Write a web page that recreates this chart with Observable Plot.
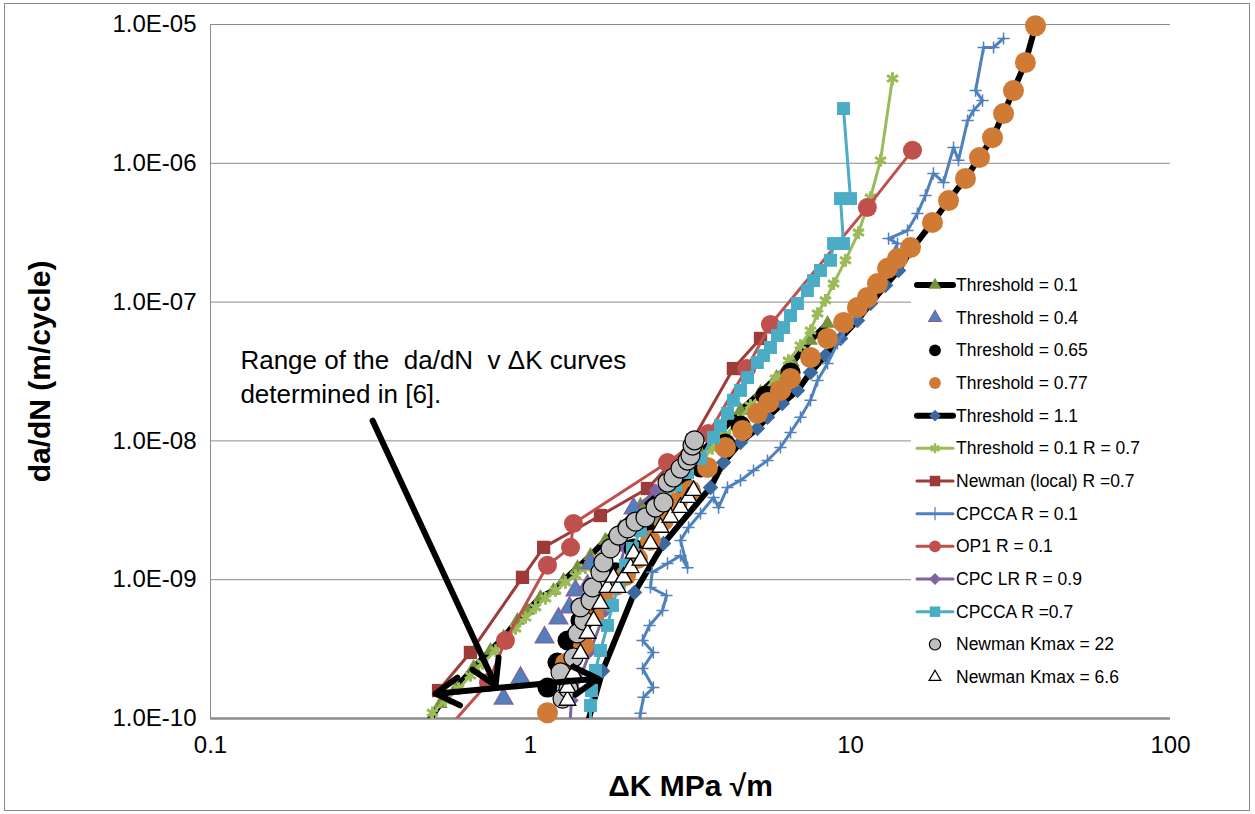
<!DOCTYPE html>
<html><head><meta charset="utf-8">
<script src="https://cdn.jsdelivr.net/npm/d3@7"></script>
<script src="https://cdn.jsdelivr.net/npm/@observablehq/plot@0.6"></script>
<style>
html,body{margin:0;padding:0;background:#fff;overflow:hidden}
#wrap{position:relative;width:1255px;height:814px;background:#fff}
#wrap > svg.plot{position:absolute;left:0;top:0}
#border{position:absolute;left:4px;top:3px;width:1246px;height:808px;border:1px solid #8a8a8a;box-sizing:border-box;pointer-events:none}
#legend{position:absolute;left:911px;top:266px}
</style></head><body><div id="wrap"></div>
<script>
// ---- axis ticks ----
const xTicks = [0.1, 1, 10, 100];
const xTickLabels = ["0.1", "1", "10", "100"];
const yTicks = [1e-10, 1e-9, 1e-8, 1e-7, 1e-6, 1e-5];
const xTitle = "ΔK MPa √m";
const yTitle = "da/dN (m/cycle)";

// ---- series: [ΔK, da/dN] ----
const thr01 = [[0.460,8.2e-11],[0.523,1.28e-10],[0.583,1.64e-10],[0.664,2.33e-10],[0.750,3.09e-10],[0.824,3.84e-10],[0.910,5.08e-10],[0.979,6.0e-10],[1.074,7.45e-10],[1.18,8.36e-10],[1.268,9.87e-10],[1.402,1.22e-9],[1.54,1.49e-9],[1.714,1.92e-9],[1.911,2.38e-9],[2.207,3.43e-9],[2.549,4.39e-9],[2.943,6.12e-9],[3.398,8.25e-9],[3.924,1.15e-8],[4.532,1.66e-8],[5.233,2.23e-8],[5.87,2.86e-8],[6.587,3.67e-8],[7.499,5.29e-8],[8.475,7.01e-8]];
const thr04 = [[0.824,1.39e-10],[0.931,1.97e-10],[1.106,3.84e-10],[1.223,5.25e-10],[1.324,6.31e-10],[1.382,8.36e-10],[1.507,9.08e-10],[1.54,1.31e-9],[1.69,1.44e-9],[1.816,1.76e-9],[2.099,3.26e-9]];
const thr065 = [[1.13,1.67e-10],[1.214,2.53e-10],[1.305,3.65e-10],[1.433,5.08e-10],[1.54,6.31e-10],[1.654,7.69e-10],[1.844,1.13e-9],[2.099,1.68e-9],[2.371,2.46e-9],[2.642,3.43e-9],[3.006,4.77e-9],[3.398,6.43e-9],[4.066,9.57e-9],[4.532,1.29e-8],[5.42,2.12e-8],[6.494,3.11e-8]];
const thr077 = [[1.13,1.10e-10],[1.286,2.49e-10],[1.465,3.36e-10],[1.574,5.52e-10],[1.69,7.08e-10],[1.844,9.08e-10],[1.981,1.07e-9],[2.16,1.42e-9],[2.371,1.92e-9],[2.604,2.67e-9],[2.875,3.60e-9],[3.162,4.39e-9],[3.573,6.43e-9],[4.066,8.96e-9],[4.598,1.19e-8],[5.117,1.58e-8],[5.545,1.89e-8],[6.04,2.31e-8],[6.494,2.82e-8],[7.499,3.99e-8],[8.475,5.47e-8],[9.51,7.13e-8],[10.51,9.14e-8],[11.29,1.08e-7],[12.14,1.36e-7],[13.05,1.75e-7],[14.03,2.06e-7],[15.40,2.47e-7],[18.04,3.75e-7],[20.25,5.39e-7],[22.87,7.77e-7],[25.30,1.10e-6],[27.78,1.53e-6],[30.08,2.28e-6],[32.3,3.34e-6],[35.2,5.32e-6],[37.85,9.8e-6]];
const thr11 = [[1.485,8.2e-11],[1.679,2.2e-10],[2.113,8.09e-10],[2.604,1.82e-9],[3.652,4.62e-9],[4.01,6.99e-9],[4.532,9.73e-9],[5.117,1.23e-8],[5.503,1.48e-8],[6.12,1.86e-8],[6.826,2.31e-8],[7.499,3.11e-8],[8.35,4.12e-8],[9.306,5.47e-8],[10.51,7.37e-8],[11.55,9.77e-8],[12.86,1.32e-7],[14.13,1.69e-7],[15.40,2.35e-7],[18.04,3.75e-7],[20.25,5.39e-7],[22.87,7.77e-7],[25.30,1.10e-6],[27.78,1.53e-6],[30.08,2.28e-6],[32.3,3.34e-6],[35.2,5.32e-6],[37.85,9.8e-6]];
const thr01R07 = [[0.480,8.9e-11],[0.494,1.10e-10],[0.542,1.35e-10],[0.596,1.64e-10],[0.649,2.04e-10],[0.708,2.49e-10],[0.778,3.09e-10],[0.835,3.65e-10],[0.898,4.45e-10],[0.965,5.34e-10],[1.037,6.31e-10],[1.114,7.33e-10],[1.197,8.36e-10],[1.286,9.55e-10],[1.382,1.07e-9],[1.485,1.22e-9],[1.631,1.42e-9],[1.778,1.71e-9],[1.939,1.98e-9],[2.130,2.46e-9],[2.337,3.05e-9],[2.549,3.72e-9],[2.778,4.54e-9],[3.05,5.45e-9],[3.398,6.99e-9],[3.70,8.82e-9],[4.066,1.09e-8],[4.467,1.40e-8],[4.87,1.80e-8],[5.31,2.23e-8],[5.83,2.82e-8],[6.40,3.79e-8],[6.978,4.87e-8],[7.499,6.24e-8],[7.888,8.28e-8],[8.35,1.03e-7],[8.851,1.36e-7],[9.645,2.0e-7],[10.59,3.17e-7],[11.55,5.67e-7],[12.41,1.05e-6],[13.53,4.08e-6]];
const newmanLocal = [[0.516,1.59e-10],[0.649,2.99e-10],[0.944,1.04e-9],[1.099,1.71e-9],[1.654,2.90e-9],[2.32,4.54e-9],[3.208,1.01e-8],[4.305,3.32e-8],[5.233,5.47e-8]];
const cpcca01 = [[2.175,8.9e-11],[2.207,1.09e-10],[2.254,1.42e-10],[2.42,1.67e-10],[2.239,2.29e-10],[2.42,2.99e-10],[2.239,3.65e-10],[2.355,4.68e-10],[2.585,6.0e-10],[2.661,7.69e-10],[2.371,8.79e-10],[2.40,1.13e-9],[2.68,1.31e-9],[2.943,1.49e-9],[3.096,1.22e-9],[2.943,1.92e-9],[3.118,2.38e-9],[3.398,3.0e-9],[3.733,3.91e-9],[3.87,3.31e-9],[4.127,4.62e-9],[4.532,5.19e-9],[4.976,6.12e-9],[5.503,7.22e-9],[6.04,8.96e-9],[6.494,1.15e-8],[6.978,1.48e-8],[7.499,1.96e-8],[7.888,2.72e-8],[8.475,3.61e-8],[9.10,5.03e-8],[9.79,6.56e-8],[10.51,8.28e-8],[11.29,1.03e-7],[12.14,1.43e-7],[13.05,1.90e-7],[14.03,2.64e-7],[13.15,2.87e-7],[15.07,3.28e-7],[16.19,4.35e-7],[17.15,5.87e-7],[18.16,8.45e-7],[19.53,7.28e-7],[20.99,1.30e-6],[21.75,1.05e-6],[23.22,2.03e-6],[24.24,2.40e-6],[25.86,2.83e-6],[24.60,3.34e-6],[26.05,6.83e-6],[27.99,6.83e-6],[30.08,7.93e-6]];
const op1 = [[0.562,8.9e-11],[0.739,1.82e-10],[0.835,3.65e-10],[1.13,1.27e-9],[1.334,1.71e-9],[1.362,2.54e-9],[2.68,6.99e-9],[3.60,1.13e-8],[4.74,3.32e-8],[5.62,6.90e-8],[11.29,4.81e-7],[15.62,1.24e-6]];
const cpcLR = [[1.324,8.2e-11],[1.343,1.35e-10],[1.382,1.59e-10],[1.54,3.09e-10],[1.714,6.0e-10],[1.844,9.87e-10],[1.981,1.76e-9],[2.099,3.15e-9],[2.459,4.39e-9],[2.943,6.12e-9]];
const cpcca07 = [[1.54,8.2e-11],[1.54,1.24e-10],[1.551,1.59e-10],[1.596,2.22e-10],[1.654,3.09e-10],[1.740,4.68e-10],[1.804,6.52e-10],[1.884,9.08e-10],[1.981,1.27e-9],[2.083,1.68e-9],[2.207,2.26e-9],[2.371,2.90e-9],[2.585,3.72e-9],[2.84,4.77e-9],[3.096,5.92e-9],[3.398,7.47e-9],[3.733,1.06e-8],[3.924,1.29e-8],[4.127,1.58e-8],[4.305,1.96e-8],[4.532,2.31e-8],[4.767,2.86e-8],[5.117,3.67e-8],[5.349,4.12e-8],[5.623,4.71e-8],[5.912,5.75e-8],[6.178,6.56e-8],[6.494,8.0e-8],[6.826,9.77e-8],[7.335,1.21e-7],[7.664,1.43e-7],[8.058,1.69e-7],[8.66,2.0e-7],[8.851,2.64e-7],[9.508,2.64e-7],[9.306,5.57e-7],[10.0,5.57e-7],[9.508,2.48e-6]];
const newman22 = [[1.259,1.39e-10],[1.314,1.64e-10],[1.241,2.15e-10],[1.362,2.75e-10],[1.402,4.10e-10],[1.465,5.08e-10],[1.433,6.31e-10],[1.54,7.08e-10],[1.563,8.79e-10],[1.654,1.13e-9],[1.69,1.33e-9],[1.778,1.68e-9],[1.884,2.08e-9],[2.011,2.34e-9],[2.13,2.62e-9],[2.287,2.81e-9],[2.459,3.31e-9],[2.604,3.60e-9],[2.68,5.01e-9],[2.798,5.45e-9],[2.943,6.32e-9],[3.096,7.22e-9],[3.162,7.85e-9],[3.208,9.26e-9],[3.255,1.01e-8]];
const newman66 = [[1.305,1.35e-10],[1.305,1.67e-10],[1.362,2.11e-10],[1.433,2.94e-10],[1.507,4.10e-10],[1.574,5.08e-10],[1.654,6.74e-10],[1.740,8.79e-10],[1.816,1.04e-9],[1.871,8.79e-10],[1.953,1.04e-9],[2.054,1.22e-9],[2.099,1.55e-9],[2.207,1.38e-9],[2.371,1.82e-9],[2.549,2.38e-9],[2.738,2.81e-9],[2.943,3.31e-9],[3.118,3.91e-9],[3.232,4.39e-9]];

// ---- annotation ----
const annotLines = ["Range of the \u00a0da/dN \u00a0v ΔK curves", "determined in [6]."];
const annotAt = [[0.124, 3.79e-8], [0.124, 2.16e-8]];
const arrows = [
  {x1: 0.321, y1: 1.40e-8, x2: 0.778, y2: 1.73e-10},
  {x1: 0.904, y1: 1.71e-10, x2: 0.505, y2: 1.51e-10},
  {x1: 0.904, y1: 1.71e-10, x2: 1.619, y2: 1.94e-10}
];

// ---- legend ----
const legendItems = [
  {label: "Threshold = 0.1", line: "#000", lw: 6, sym: "triangle", fill: "#76923C", stroke: "none", size: 70},
  {label: "Threshold = 0.4", line: null, sym: "triangle", fill: "#4F81BD", stroke: "#8064A2", size: 70},
  {label: "Threshold = 0.65", line: null, sym: "circle", fill: "#000", stroke: "none", size: 110},
  {label: "Threshold = 0.77", line: null, sym: "circle", fill: "#CF7B35", stroke: "none", size: 110},
  {label: "Threshold = 1.1", line: "#000", lw: 6, sym: "diamond2", fill: "#3B6AA0", stroke: "none", size: 90},
  {label: "Threshold = 0.1 R = 0.7", line: "#9BBB59", lw: 3, sym: "asterisk", fill: "none", stroke: "#9BBB59", size: 70},
  {label: "Newman (local) R =0.7", line: "#9E3A38", lw: 3, sym: "square", fill: "#9E3A38", stroke: "none", size: 110},
  {label: "CPCCA R = 0.1", line: "#4F81BD", lw: 3, sym: "plus", fill: "none", stroke: "#4F81BD", size: 60},
  {label: "OP1 R = 0.1", line: "#C0504D", lw: 3, sym: "circle", fill: "#C0504D", stroke: "none", size: 110},
  {label: "CPC LR R = 0.9", line: "#8064A2", lw: 3, sym: "diamond2", fill: "#8064A2", stroke: "none", size: 90},
  {label: "CPCCA R =0.7", line: "#4BACC6", lw: 3, sym: "square", fill: "#4BACC6", stroke: "none", size: 110},
  {label: "Newman Kmax = 22", line: null, sym: "circle", fill: "#BFBFBF", stroke: "#000", size: 100},
  {label: "Newman Kmax = 6.6", line: null, sym: "triangle", fill: "#fff", stroke: "#000", size: 60}
];

const X = d => d[0], Y = d => d[1];
const inRange = a => a.filter(d => d[1] >= 1e-10);
const fmtY = d => { const e = Math.round(Math.log10(d)); return "1.0E" + (e < 0 ? "-" : "+") + String(Math.abs(e)).padStart(2, "0"); };
const ln = (data, stroke, strokeWidth) => Plot.line(data, {x: X, y: Y, stroke, strokeWidth, clip: true, strokeLinejoin: "round"});
const dots = (data, o) => Plot.dot(inRange(data), {x: X, y: Y, ...o});

const chart = Plot.plot({
  width: 1255, height: 814,
  marginLeft: 210, marginRight: 85, marginTop: 24, marginBottom: 96,
  x: {type: "log", domain: [0.1, 100], axis: null},
  y: {type: "log", domain: [1e-10, 1e-5], axis: null},
  style: {fontFamily: "'Liberation Sans', Arial, sans-serif", fontSize: "24px", background: "transparent", overflow: "visible", color: "#000"},
  marks: [
    Plot.ruleY(yTicks, {stroke: "#8c8c8c", strokeWidth: 1}),
    Plot.ruleX([0.1], {stroke: "#8c8c8c", strokeWidth: 1}),
    Plot.ruleY([1e-10], {stroke: "#8c8c8c", strokeWidth: 2.5}),
    Plot.text(yTicks, {x: () => 0.1, y: d => d, text: fmtY, textAnchor: "end", dx: -14, fontSize: 24, fill: "#000"}),
    Plot.text(xTicks, {x: d => d, frameAnchor: "bottom", text: (d, i) => xTickLabels[i], dy: 34, fontSize: 24, fill: "#000"}),

    ln(thr11, "#000", 6),
    dots(thr11, {symbol: "diamond2", r: 7, fill: "#3B6AA0"}),
    ln(thr01, "#000", 6),
    dots(thr01, {symbol: "triangle", r: 5.5, fill: "#76923C"}),
    ln(thr01R07, "#9BBB59", 3),
    dots(thr01R07, {symbol: "asterisk", r: 6, fill: "none", stroke: "#9BBB59", strokeWidth: 3}),
    ln(newmanLocal, "#9E3A38", 3),
    dots(newmanLocal, {symbol: "square", r: 7.5, fill: "#9E3A38"}),
    ln(cpcca01, "#4F81BD", 3),
    dots(cpcca01, {symbol: "plus", r: 4, fill: "none", stroke: "#4F81BD", strokeWidth: 1.5}),
    ln(op1, "#C0504D", 3),
    dots(op1, {r: 9.5, fill: "#C0504D"}),
    ln(cpcLR, "#8064A2", 3),
    dots(cpcLR, {symbol: "diamond2", r: 6.5, fill: "#8064A2"}),
    dots(thr04, {symbol: "triangle", r: 6.8, fill: "#4F81BD", stroke: "#8064A2", strokeWidth: 1.5}),
    dots(thr065, {r: 10, fill: "#000"}),
    dots(thr077, {r: 10.5, fill: "#CF7B35"}),
    ln(cpcca07, "#4BACC6", 3),
    dots(cpcca07, {symbol: "square", r: 7.3, fill: "#4BACC6"}),
    dots(newman22, {r: 9.5, fill: "#BFBFBF", stroke: "#000", strokeWidth: 1.2}),
    dots(newman66, {symbol: "triangle", r: 6.2, fill: "#fff", stroke: "#000", strokeWidth: 1.3}),

    Plot.arrow(arrows, {x1: "x1", y1: "y1", x2: "x2", y2: "y2", stroke: "#000", strokeWidth: 6, headLength: 7, headAngle: 62}),
    Plot.text(annotLines, {x: (d, i) => annotAt[i][0], y: (d, i) => annotAt[i][1], text: d => d, textAnchor: "start", fontSize: 26, fill: "#000"}),
    Plot.text([yTitle], {frameAnchor: "left", dx: -170, rotate: -90, textAnchor: "middle", text: d => d, fontSize: 30, fontWeight: "bold", fill: "#000"}),
    Plot.text([xTitle], {frameAnchor: "bottom", dy: 77, textAnchor: "middle", text: d => d, fontSize: 30, fontWeight: "bold", fill: "#000"})
  ]
});
chart.classList.add("plot");
const wrap = document.getElementById("wrap");
wrap.appendChild(chart);

// legend
const symMap = {triangle: d3.symbolTriangle, circle: d3.symbolCircle, square: d3.symbolSquare, diamond2: d3.symbolDiamond2, asterisk: d3.symbolAsterisk, plus: d3.symbolPlus};
const lg = d3.create("svg").attr("id", "legend").attr("width", 262).attr("height", 430);
lg.append("rect").attr("width", 262).attr("height", 430).attr("fill", "#fff");
legendItems.forEach((it, i) => {
  const cy = 19 + i * 32.67;
  const g = lg.append("g").attr("transform", `translate(0,${cy})`);
  if (it.line) g.append("line").attr("x1", 6).attr("x2", 42).attr("y1", 0).attr("y2", 0).attr("stroke", it.line).attr("stroke-width", it.lw).attr("stroke-linecap", "round");
  g.append("path").attr("d", d3.symbol(symMap[it.sym], it.size)()).attr("transform", "translate(24,0)")
    .attr("fill", it.fill).attr("stroke", it.stroke).attr("stroke-width", it.sym === "asterisk" ? 2.5 : 1.2);
  g.append("text").attr("x", 45).attr("y", 0).attr("dy", "0.35em").attr("font-family", "'Liberation Sans', Arial, sans-serif").attr("font-size", 17.5).attr("fill", "#000").text(it.label);
});
wrap.appendChild(lg.node());
const border = document.createElement("div");
border.id = "border";
wrap.appendChild(border);
</script>
</body></html>
